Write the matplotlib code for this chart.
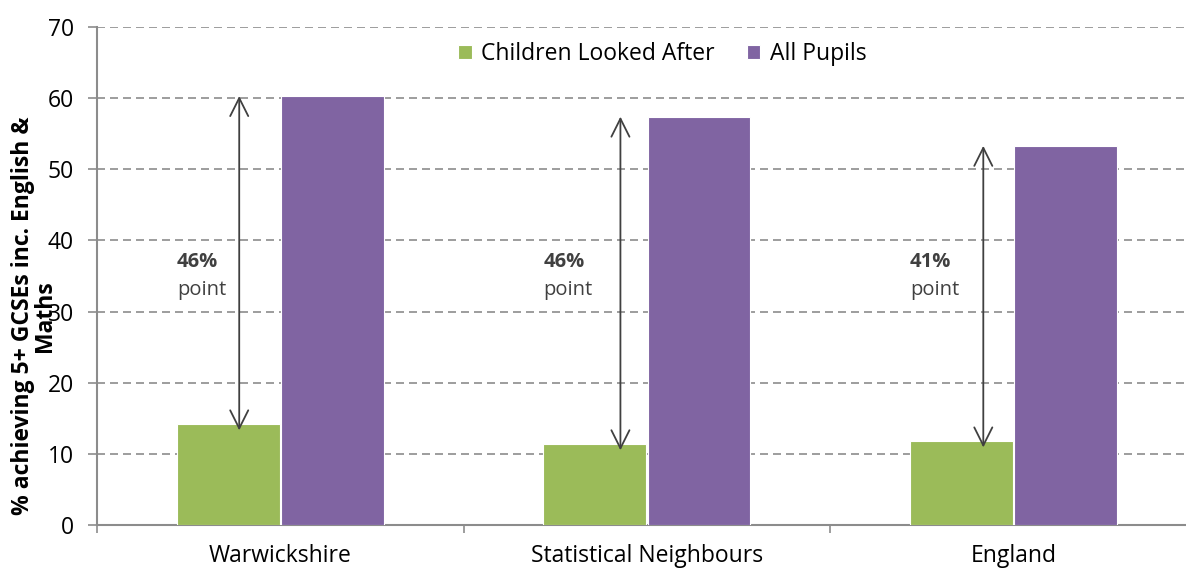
import matplotlib
matplotlib.use("Agg")
import matplotlib.pyplot as plt
import numpy as np

plt.rcParams['font.family'] = ['Open Sans', 'DejaVu Sans']

categories = ["Warwickshire", "Statistical Neighbours", "England"]
looked_after = [14.2, 11.4, 11.8]
all_pupils = [60.3, 57.4, 53.3]
gap_labels = ["46%", "46%", "41%"]
series_names = ["Children Looked After", "All Pupils"]
y_ticks = [0, 10, 20, 30, 40, 50, 60, 70]

green = "#9BBB59"
purple = "#8064A2"
grid_col = "#8C8C8C"
text_col = "#404040"

fig = plt.figure(figsize=(11.86, 5.69), dpi=100)
ax = fig.add_axes([97 / 1186, 44 / 569, 1 - 97 / 1186, (525 - 27) / 569])

x = np.arange(len(categories))
w = 0.28
off = 0.142
ax.bar(x - off, looked_after, w, color=green, edgecolor="white", linewidth=0.8,
       label=series_names[0], zorder=3)
ax.bar(x + off, all_pupils, w, color=purple, edgecolor="white", linewidth=0.8,
       label=series_names[1], zorder=3)

# gap arrows between the two series, with the gap label to their left
arrow_dx = [0.03, 0.07, 0.06]
for i in range(len(categories)):
    ax.annotate("", xy=(x[i] - off + arrow_dx[i], all_pupils[i]),
                xytext=(x[i] - off + arrow_dx[i], looked_after[i] - 0.9),
                arrowprops=dict(arrowstyle="<->,head_length=1.3,head_width=0.65",
                                color=text_col, lw=1.3, shrinkA=0, shrinkB=0),
                zorder=4)
    ax.text(x[i] - off - w / 2, 37.0, gap_labels[i], fontsize=14.5, fontweight="bold",
            color=text_col, ha="left", va="center", zorder=4)
    ax.text(x[i] - off - w / 2, 33.0, "point", fontsize=14.5,
            color=text_col, ha="left", va="center", zorder=4)

ax.set_ylim(0, 70)
ax.set_xlim(-0.5, 2.471)
ax.set_yticks(y_ticks)
ax.yaxis.grid(True, linestyle=(0, (4.8, 3)), color=grid_col, linewidth=1.2, zorder=0)
ax.set_axisbelow(True)

ax.set_xticks(x)
ax.set_xticklabels(categories, fontsize=16.5, color="black")
ax.set_xticks([-0.5, 0.5, 1.5], minor=True)
ax.tick_params(axis="x", which="major", length=0, pad=14)
ax.tick_params(axis="x", which="minor", length=6, color=grid_col, width=1.2)
ax.tick_params(axis="y", length=6.5, color=grid_col, width=1.2, labelsize=16.5, pad=10)

for s in ["top", "right"]:
    ax.spines[s].set_visible(False)
for s in ["left", "bottom"]:
    ax.spines[s].set_color(grid_col)
    ax.spines[s].set_linewidth(1.5)

ax.set_ylabel("% achieving 5+ GCSEs inc. English &\nMaths", fontsize=16.5,
              fontweight="bold", linespacing=0.9)
ax.yaxis.set_label_coords(-0.037, 0.42)

ax.legend(loc="center", bbox_to_anchor=(0.519, 0.946), ncol=2, frameon=False,
          fontsize=16.5, handlelength=0.6, handleheight=0.6, handletextpad=0.4,
          columnspacing=1.4)

fig.savefig("out.png", dpi=100)
